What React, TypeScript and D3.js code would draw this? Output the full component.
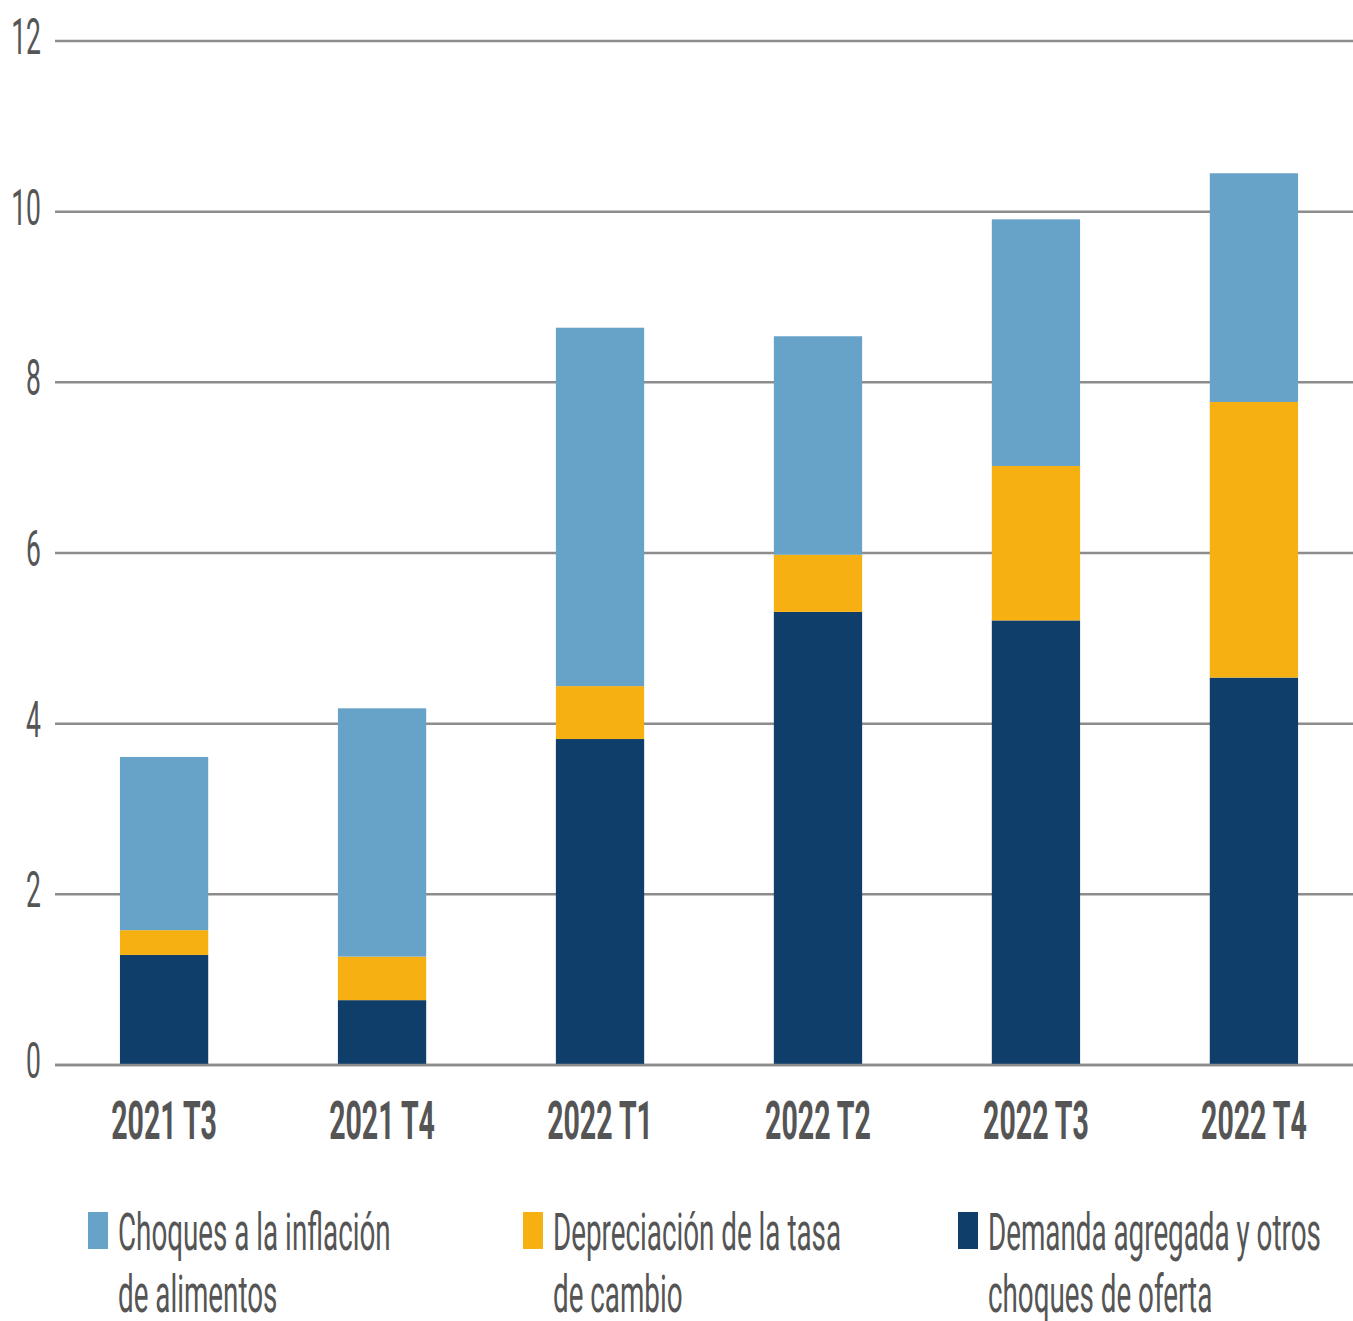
import * as d3 from "d3";
import React from "react";

const categories = ["2021 T3", "2021 T4", "2022 T1", "2022 T2", "2022 T3", "2022 T4"];
const demanda = [1.29, 0.76, 3.82, 5.31, 5.21, 4.54];
const depreciacion = [0.29, 0.51, 0.62, 0.67, 1.81, 3.23];
const alimentos = [2.03, 2.91, 4.2, 2.56, 2.89, 2.68];
const yTicks = [0, 2, 4, 6, 8, 10, 12];

const seriesKeys = ["demanda", "depreciacion", "alimentos"];
const colors = { demanda: "#0e3e69", depreciacion: "#f7b011", alimentos: "#67a3c9" };
const legend = [
  { key: "alimentos", lines: ["Choques a la inflación", "de alimentos"] },
  { key: "depreciacion", lines: ["Depreciación de la tasa", "de cambio"] },
  { key: "demanda", lines: ["Demanda agregada y otros", "choques de oferta"] },
];

const W = 1353;
const H = 1321;
const left = 55;
const right = 1353;
const top = 41;
const bottom = 1065;
const SY = 1.85; // the reference type is tall and narrow

function Tall({ x, y, size, anchor = "start", weight = 400, children }) {
  return (
    <text
      transform={`translate(${x},${y}) scale(1,${SY})`}
      fontSize={size}
      fontWeight={weight}
      textAnchor={anchor}
      fill="#555"
      fontFamily="Roboto, sans-serif"
    >
      {children}
    </text>
  );
}

export default function App() {
  const rows = categories.map((c, i) => ({
    cat: c,
    demanda: demanda[i],
    depreciacion: depreciacion[i],
    alimentos: alimentos[i],
  }));
  const stacked = d3.stack().keys(seriesKeys)(rows);
  const x = d3.scaleBand().domain(categories).range([60, 1358]).paddingInner(0.595).paddingOuter(0.275);
  const y = d3.scaleLinear().domain([0, 12]).range([bottom, top]);

  return (
    <svg width={W} height={H} style={{ position: "absolute", left: 0, top: 0 }}>
      {yTicks.map((t) => (
        <g key={t}>
          <line x1={left} x2={right} y1={y(t)} y2={y(t)} stroke="#8c8c8c" strokeWidth={2.5} />
          <Tall x={41} y={y(t) + 13} size={26.5} anchor="end">
            {t}
          </Tall>
        </g>
      ))}
      {stacked.map((s) => (
        <g key={s.key} fill={colors[s.key]}>
          {s.map((d, i) => (
            <rect
              key={i}
              x={x(categories[i])}
              width={x.bandwidth()}
              y={y(d[1])}
              height={y(d[0]) - y(d[1])}
            />
          ))}
        </g>
      ))}
      <line x1={left} x2={right} y1={y(0)} y2={y(0)} stroke="#8c8c8c" strokeWidth={2.5} />
      {categories.map((c) => (
        <Tall key={c} x={x(c) + x.bandwidth() / 2} y={1139} size={28.5} anchor="middle" weight={700}>
          {c}
        </Tall>
      ))}
      {legend.map((l, i) => {
        const lx = 88 + i * 435;
        return (
          <g key={l.key}>
            <rect x={lx} y={1212} width={20} height={37} fill={colors[l.key]} />
            {l.lines.map((t, j) => (
              <Tall key={j} x={lx + 30} y={1250 + j * 62} size={27.8}>
                {t}
              </Tall>
            ))}
          </g>
        );
      })}
    </svg>
  );
}
